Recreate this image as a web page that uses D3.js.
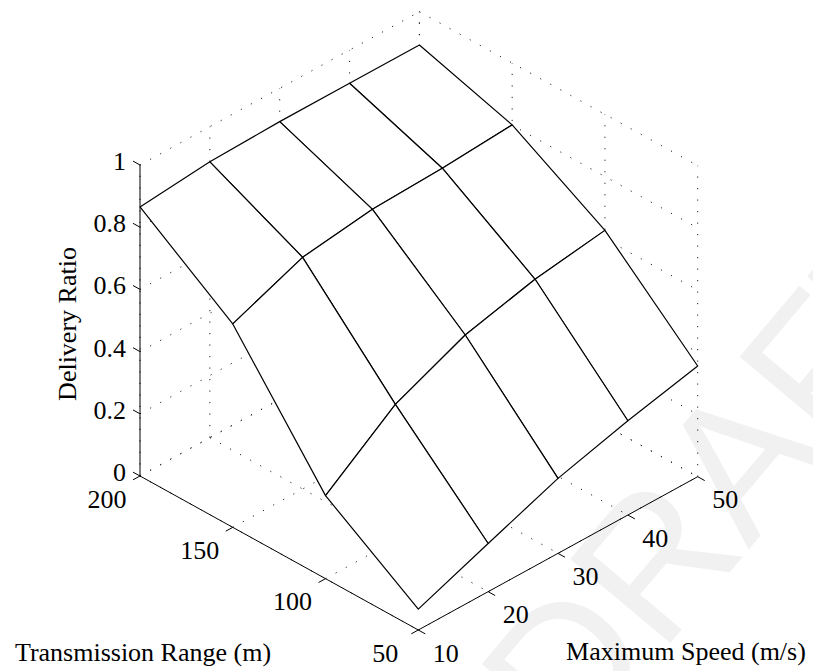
<!DOCTYPE html>
<html>
<head>
<meta charset="utf-8">
<script src="https://cdn.jsdelivr.net/npm/d3@7"></script>
<style>
  html, body { margin: 0; padding: 0; background: #fff; }
  svg { display: block; }
  text { font-family: "Liberation Serif", "Times New Roman", serif; fill: #000; }
</style>
</head>
<body>
<svg id="chart" width="813" height="671"></svg>
<script>
// Delivery ratio over a grid of transmission range x maximum speed
const speeds = [10, 20, 30, 40, 50];          // m/s
const ranges = [50, 100, 150, 200];           // m
const ratioRange50  = [0.067, 0.155, 0.241, 0.303, 0.356];
const ratioRange100 = [0.267, 0.437, 0.537, 0.593, 0.627];
const ratioRange150 = [0.654, 0.745, 0.776, 0.785, 0.801];
const ratioRange200 = [0.865, 0.887, 0.893, 0.893, 0.893];
const zTicks = [0, 0.2, 0.4, 0.6, 0.8, 1];
const rangeTicks = [50, 100, 150, 200];
const speedTicks = [10, 20, 30, 40, 50];

const surface = [ratioRange50, ratioRange100, ratioRange150, ratioRange200];

const svg = d3.select("#chart");

// faint watermark behind the plot
svg.append("text")
  .attr("transform", "translate(572,760) rotate(-50)")
  .style("font-family", "Liberation Sans, Arial, sans-serif")
  .attr("font-size", 190)
  .style("fill", "#f1f1f1")
  .text("DRAFT");

// oblique projection of the 3-D box (range, speed, ratio) onto the page
const rPos = d3.scaleLinear().domain([50, 200]).range([0, 1]);
const sPos = d3.scaleLinear().domain([10, 50]).range([0, 1]);
const zPos = d3.scaleLinear().domain([0, 1]).range([0, 311]);
const origin = [418.3, 630];        // range 50, speed 10, ratio 0
const rVec = [-278.3, -154];        // range 50 -> 200
const sVec = [279.4, -153.3];       // speed 10 -> 50

function proj(r, s, z) {
  const u = rPos(r), v = sPos(s);
  return [origin[0] + u * rVec[0] + v * sVec[0],
          origin[1] + u * rVec[1] + v * sVec[1] - zPos(z)];
}

const rMin = 50, rMax = 200, sMin = 10, sMax = 50, zMin = 0, zMax = 1;

// dotted grid on the floor and the two back walls
const gridG = svg.append("g")
  .attr("fill", "none")
  .attr("stroke", "#222")
  .attr("stroke-width", 1)
  .attr("stroke-dasharray", "1.2,10.3");

function seg(g, a, b) {
  g.append("line")
    .attr("x1", a[0]).attr("y1", a[1])
    .attr("x2", b[0]).attr("y2", b[1]);
}

zTicks.forEach(z => {
  seg(gridG, proj(rMax, sMin, z), proj(rMax, sMax, z));
  seg(gridG, proj(rMax, sMax, z), proj(rMin, sMax, z));
});
speedTicks.forEach(s => {
  seg(gridG, proj(rMax, s, zMin), proj(rMax, s, zMax));
  seg(gridG, proj(rMax, s, zMin), proj(rMin, s, zMin));
});
rangeTicks.forEach(r => {
  seg(gridG, proj(r, sMax, zMin), proj(r, sMax, zMax));
  seg(gridG, proj(r, sMin, zMin), proj(r, sMax, zMin));
});

// mesh surface: white quads drawn far-to-near so nearer cells hide the rest
const cells = [];
for (let i = 0; i < ranges.length - 1; i++) {
  for (let j = 0; j < speeds.length - 1; j++) {
    const pts = [
      proj(ranges[i], speeds[j], surface[i][j]),
      proj(ranges[i], speeds[j + 1], surface[i][j + 1]),
      proj(ranges[i + 1], speeds[j + 1], surface[i + 1][j + 1]),
      proj(ranges[i + 1], speeds[j], surface[i + 1][j])
    ];
    const base = proj((ranges[i] + ranges[i + 1]) / 2, (speeds[j] + speeds[j + 1]) / 2, 0);
    cells.push({ pts, depth: base[1] });
  }
}
cells.sort((a, b) => a.depth - b.depth);

svg.append("g")
  .selectAll("path")
  .data(cells)
  .join("path")
  .attr("d", d => "M" + d.pts.map(p => p.join(",")).join("L") + "Z")
  .attr("fill", "#fff")
  .attr("stroke", "#000")
  .attr("stroke-width", 1.2)
  .attr("stroke-linejoin", "round");

// axes
const axG = svg.append("g").attr("stroke", "#000").attr("stroke-width", 1).attr("fill", "none");
seg(axG, proj(rMax, sMin, zMin), proj(rMax, sMin, zMax));   // ratio axis
seg(axG, proj(rMax, sMin, zMin), proj(rMin, sMin, zMin));   // range axis
seg(axG, proj(rMin, sMin, zMin), proj(rMin, sMax, zMin));   // speed axis

function unit(v) { const l = Math.hypot(v[0], v[1]); return [v[0] / l, v[1] / l]; }
const tickLen = 8;
const zTickDir = unit(rVec);                       // points toward larger range
const rTickDir = unit([-sVec[0], -sVec[1]]);       // points toward smaller speed
const sTickDir = unit([-rVec[0], -rVec[1]]);       // points toward smaller range

const labelG = svg.append("g").attr("font-size", 26);

zTicks.forEach(z => {
  const p = proj(rMax, sMin, z);
  seg(axG, p, [p[0] + zTickDir[0] * tickLen, p[1] + zTickDir[1] * tickLen]);
  labelG.append("text")
    .attr("x", p[0] - 14).attr("y", p[1] + 5)
    .attr("text-anchor", "end")
    .text(d3.format("")(z));
});
rangeTicks.forEach(r => {
  const p = proj(r, sMin, zMin);
  seg(axG, p, [p[0] + rTickDir[0] * tickLen, p[1] + rTickDir[1] * tickLen]);
  labelG.append("text")
    .attr("x", p[0] - 33).attr("y", p[1] + 31.5)
    .attr("text-anchor", "middle")
    .text(r);
});
speedTicks.forEach(s => {
  const p = proj(rMin, s, zMin);
  seg(axG, p, [p[0] + sTickDir[0] * tickLen, p[1] + sTickDir[1] * tickLen]);
  labelG.append("text")
    .attr("x", p[0] + 27.5).attr("y", p[1] + 31.5)
    .attr("text-anchor", "middle")
    .text(s);
});

// axis titles
labelG.append("text")
  .attr("x", 143).attr("y", 661)
  .attr("text-anchor", "middle")
  .text("Transmission Range (m)");
labelG.append("text")
  .attr("x", 686).attr("y", 660)
  .attr("text-anchor", "middle")
  .text("Maximum Speed (m/s)");
labelG.append("text")
  .attr("transform", "translate(76,324) rotate(-90)")
  .attr("text-anchor", "middle")
  .text("Delivery Ratio");
</script>
</body>
</html>
